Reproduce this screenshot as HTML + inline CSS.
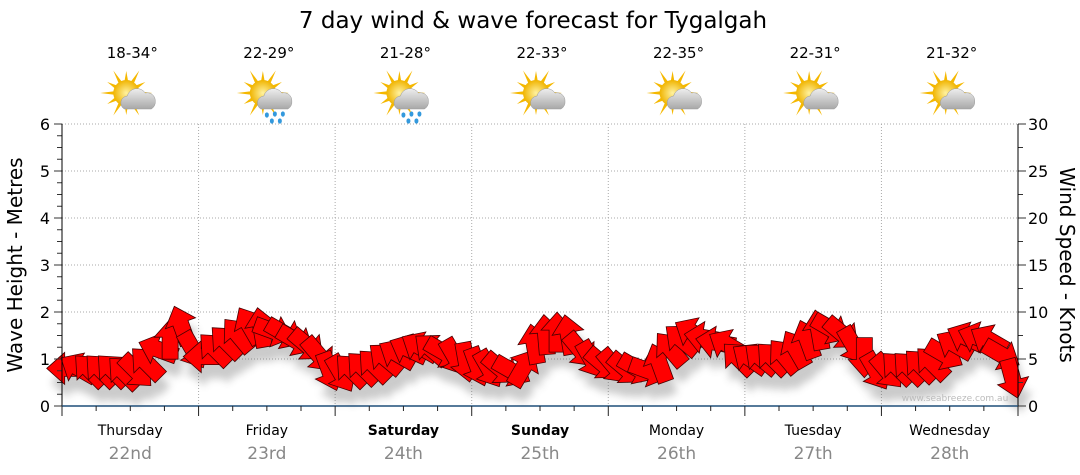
<!DOCTYPE html>
<html><head><meta charset="utf-8"><style>
html,body{margin:0;padding:0;background:#fff;width:1080px;height:475px;overflow:hidden}
svg{display:block;font-family:"DejaVu Sans","Liberation Sans",sans-serif}
</style></head><body>
<svg id="c" width="1080" height="475">
<defs>
<filter id="sh" x="-20%" y="-20%" width="140%" height="160%"><feGaussianBlur stdDeviation="4"/></filter>
<radialGradient id="sun" cx="50%" cy="50%" r="50%"><stop offset="0" stop-color="#fff2a0"/><stop offset="1" stop-color="#f0b400"/></radialGradient>
<linearGradient id="cloud" x1="0" y1="0" x2="0" y2="1"><stop offset="0" stop-color="#eeeeee"/><stop offset="1" stop-color="#a8a8a8"/></linearGradient>
</defs>
<text x="533" y="28" font-size="23" text-anchor="middle" fill="#000">7 day wind &amp; wave forecast for Tygalgah</text>
<g id="grid"></g>
<g id="shadow" filter="url(#sh)" opacity="0.3"></g>
<g id="arrows"></g>
<g id="axes"></g>
<g id="icons"></g>
<text x="955" y="401" font-size="9" fill="#bbb" text-anchor="middle">www.seabreeze.com.au</text>
<text transform="translate(22,265) rotate(-90)" font-size="20" text-anchor="middle">Wave Height - Metres</text>
<text transform="translate(1060,265) rotate(90)" font-size="20" text-anchor="middle">Wind Speed - Knots</text>
</svg>
<script>
const days=["Thursday","Friday","Saturday","Sunday","Monday","Tuesday","Wednesday"];
const dates=["22nd","23rd","24th","25th","26th","27th","28th"];
const boldDays=[false,false,true,true,false,false,false];
const temps=["18-34°","22-29°","21-28°","22-33°","22-35°","22-31°","21-32°"];
const rainy=[false,true,true,false,false,false,false];
const leftTicks=[0,1,2,3,4,5,6];
const rightTicks=[0,5,10,15,20,25,30];
// wave heights every 2 hours (12 per day)
const waveHeights=[
0.8,0.8,0.75,0.75,0.75,0.7,0.75,0.9,1.2,1.4,1.7,1.2,
1.05,1.2,1.35,1.5,1.7,1.65,1.6,1.55,1.4,1.3,1.1,0.75,
0.7,0.75,0.8,0.85,1.0,1.1,1.2,1.25,1.2,1.15,1.05,0.95,
0.85,0.8,0.8,0.75,0.8,1.3,1.5,1.55,1.5,1.2,1.0,0.9,
0.85,0.8,0.8,0.75,0.9,1.2,1.4,1.55,1.45,1.35,1.3,1.0,
1.0,1.0,1.0,1.05,1.2,1.4,1.6,1.65,1.55,1.3,1.05,0.75,
0.75,0.8,0.8,0.85,0.9,1.1,1.3,1.45,1.45,1.4,1.1,0.6];
// arrow pointing direction, degrees (screen, 0 = right, clockwise)
const windDirs=[
180,210,225,225,225,225,45,225,200,270,250,60,
180,225,225,230,240,260,20,30,30,40,50,70,
60,225,225,225,220,210,205,210,220,30,60,80,
70,60,40,30,300,260,265,270,260,50,60,40,
50,40,30,20,250,230,220,210,190,190,210,225,
215,220,225,230,240,250,260,30,40,60,90,60,
50,225,225,225,225,30,210,205,200,210,30,75];
const X0=62,X1=1018,Y0=406,Y6=124;
const dayW=(X1-X0)/7;
const xs=t=>X0+t*(X1-X0)/168; // hours
const yL=v=>Y0-v*(Y0-Y6)/6;
const NS="http://www.w3.org/2000/svg";
function mk(tag,attrs,parent){const e=document.createElementNS(NS,tag);for(const k in attrs)e.setAttribute(k,attrs[k]);parent.appendChild(e);return e;}
const grid=document.getElementById('grid'),axes=document.getElementById('axes');
leftTicks.forEach((v,i)=>{
  if(v>0){const g=mk('line',{x1:X0,x2:X1,y1:yL(v),y2:yL(v),stroke:'#aaa','stroke-dasharray':'1,2'},grid);
  
  }
  const t=mk('text',{x:X0-12,y:yL(v)+6,'font-size':16,'text-anchor':'end'},axes);t.textContent=v;
  
  
});
rightTicks.forEach(v=>{
  const y=Y0-v*(Y0-Y6)/30;
  const t=mk('text',{x:X1+10,y:y+6,'font-size':16},axes);t.textContent=v;
  
  
});
for(let i=0;i<=24;i++){const y=Y0-i*(Y0-Y6)/24;
  mk('line',{x1:X0-(i%4?5:8),x2:X0,y1:y,y2:y,stroke:'#333'},axes);
  if(i%2==0)mk('line',{x1:X1,x2:X1+(i%4?5:8),y1:y,y2:y,stroke:'#333'},axes);}
mk('line',{x1:X0,x2:X0,y1:Y6,y2:Y0,stroke:'#000'},axes);
mk('line',{x1:X1,x2:X1,y1:Y6,y2:Y0,stroke:'#000'},axes);
mk('line',{x1:X0,x2:X1,y1:Y0,y2:Y0,stroke:'#1f4e79','stroke-width':1.5},axes);
for(let h=0;h<=168;h+=6){const x=xs(h);mk('line',{x1:x,x2:x,y1:Y0,y2:Y0+(h%24?5:10),stroke:'#222'},axes);}
days.forEach((d,i)=>{
  const cx=X0+dayW*(i+0.5);
  if(i>0){const g=mk('line',{x1:X0+dayW*i,x2:X0+dayW*i,y1:Y6,y2:Y0,stroke:'#aaa','stroke-dasharray':'1,2'},grid);
  
  }
  const t=mk('text',{x:cx,y:435,'font-size':14,'text-anchor':'middle','font-weight':boldDays[i]?'bold':'normal'},axes);t.textContent=d;
  
  
  const t2=mk('text',{x:cx,y:459,'font-size':17,'text-anchor':'middle',fill:'#888'},axes);t2.textContent=dates[i];
  
  
  const t3=mk('text',{x:cx+2,y:58,'font-size':15,'text-anchor':'middle'},axes);t3.textContent=temps[i];
  
  
  const icons=document.getElementById('icons');
  const g=mk('g',{transform:`translate(${cx+2},97)`},icons);
  
  
  for(let k=0;k<12;k++){const a=k*30*Math.PI/180,r1=12,r2=k%2?22:26;
    mk('polygon',{points:`${-6+Math.cos(a-0.15)*r1},${-4+Math.sin(a-0.15)*r1} ${-6+Math.cos(a)*r2},${-4+Math.sin(a)*r2} ${-6+Math.cos(a+0.15)*r1},${-4+Math.sin(a+0.15)*r1}`,fill:'#f5b800'},g);}
  mk('circle',{cx:-6,cy:-4,r:13,fill:'url(#sun)'},g);
  mk('path',{d:'M-8,12 a7,7 0 0 1 3,-13 a10,10 0 0 1 18,-3 a8,8 0 0 1 10,8 a8,8 0 0 1 -4,8 z',fill:'url(#cloud)',stroke:'#999','stroke-width':0.5},g);
  if(rainy[i]){[[-2,18],[6,17],[14,17],[3,24],[11,24]].forEach(p=>mk('ellipse',{cx:p[0],cy:p[1],rx:2,ry:2.6,fill:'#3399dd'},g));}
});
const shadow=document.getElementById('shadow'),arrows=document.getElementById('arrows');
const AP="-19,-8 3,-8 3,-16 21,0 3,16 3,8 -19,8";
waveHeights.forEach((v,i)=>{
  const x=xs(i*2+1),y=yL(v);
  mk('polygon',{points:AP,fill:'#555',transform:`translate(${x+4},${y+14}) rotate(${windDirs[i]})`},shadow);
});
waveHeights.forEach((v,i)=>{
  const x=xs(i*2+1),y=yL(v);
  const p=mk('polygon',{points:AP,fill:'#ff0000',stroke:'#440000','stroke-width':0.8,transform:`translate(${x},${y}) rotate(${windDirs[i]})`},arrows);
  
  
});
</script>
</body></html>
